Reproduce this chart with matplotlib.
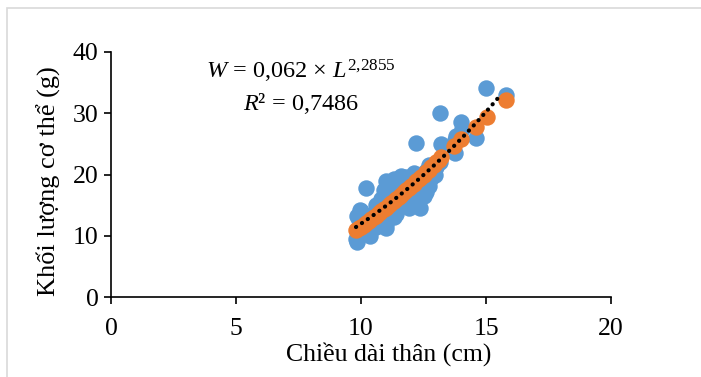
import matplotlib

matplotlib.use("Agg")
import matplotlib.pyplot as plt
import numpy as np
from matplotlib.patches import Rectangle

# observed length (cm) / weight (g)
obs_len = [15.0, 15.8, 13.15, 14.0, 14.05, 13.8, 13.75, 14.6, 12.2, 13.2,
           13.75, 13.15, 13.0, 12.95, 12.7, 12.6, 12.7, 12.35, 10.2, 9.85,
           10.35, 10.35, 9.85, 10.0, 9.9, 10.1, 9.8, 9.95,
           10.5, 10.6, 10.7, 10.8, 10.9, 11.0, 11.0, 11.0, 11.0, 11.1,
           11.2, 11.2, 11.3, 11.3, 11.4, 11.4, 11.5, 11.5, 11.6, 11.6,
           11.7, 11.7, 11.8, 11.8, 11.9, 12.0, 12.0, 12.1, 12.2, 12.3,
           12.4, 12.5, 12.5, 10.4, 10.6, 10.8, 10.2, 11.3, 11.9, 12.6,
           11.0, 10.5, 12.8, 12.1]
obs_wt = [34.2, 33.0, 30.0, 28.5, 27.4, 26.3, 25.6, 26.0, 25.1, 25.0,
          23.5, 22.0, 21.3, 20.0, 21.5, 17.1, 18.2, 14.6, 17.8, 9.0,
          10.0, 10.7, 13.3, 14.0, 12.5, 12.0, 9.4, 14.2,
          13.5, 15.0, 14.2, 16.0, 17.5, 19.0, 18.0, 12.0, 12.8, 13.8,
          15.0, 18.8, 19.2, 16.5, 14.0, 13.5, 19.5, 17.0, 19.8, 14.8,
          18.5, 16.0, 19.6, 15.2, 17.8, 19.0, 16.2, 15.5, 18.0, 20.0,
          17.5, 19.2, 16.5, 12.0, 11.5, 13.0, 11.0, 13.0, 14.5, 20.5,
          11.3, 11.8, 19.5, 20.3]

# predicted weight (orange)
pred_len = [9.8, 9.9, 10.0, 10.1, 10.2, 10.3, 10.4, 10.5, 10.6, 10.7,
            10.8, 10.9, 11.0, 11.1, 11.2, 11.3, 11.4, 11.5, 11.6, 11.7,
            11.8, 11.9, 12.0, 12.1, 12.2, 12.3, 12.4, 12.5, 12.6, 12.7,
            12.8, 12.9, 13.0, 13.1, 13.2, 13.7, 14.0, 14.6, 15.05, 15.8]
pred_wt = [10.9, 11.2, 11.5, 11.8, 12.1, 12.4, 12.7, 13.0, 13.3, 13.7,
           14.0, 14.3, 14.6, 15.0, 15.3, 15.7, 16.0, 16.4, 16.7, 17.1,
           17.4, 17.8, 18.1, 18.5, 18.9, 19.2, 19.6, 20.0, 20.4, 20.8,
           21.2, 21.6, 22.0, 22.4, 22.8, 24.7, 25.8, 27.8, 29.4, 32.1]

# power trendline W = a * L^b
trend_a = 0.062
trend_b = 2.2855
trend_range = [9.8, 15.55]

x_ticks = [0, 5, 10, 15, 20]
y_ticks = [0, 10, 20, 30, 40]

plt.rcParams["font.family"] = ["Liberation Serif", "DejaVu Serif"]
plt.rcParams["mathtext.fontset"] = "custom"
plt.rcParams["mathtext.rm"] = "Liberation Serif"
plt.rcParams["mathtext.it"] = "Liberation Serif:italic"

FS = 18.5

fig = plt.figure(figsize=(7.01, 3.77), dpi=100)
ax = fig.add_axes([111 / 701, 80 / 377, 500 / 701, 245 / 377])

# chart area border (only top/left visible in crop)
fig.patches.append(Rectangle((6.5 / 701, -0.1), 1.5, 1.1 - 8.5 / 377,
                             transform=fig.transFigure, fill=False,
                             edgecolor="#d9d9d9", linewidth=1.2))

ax.scatter(obs_len, obs_wt, s=140, color="#5b9bd5", linewidths=0, zorder=2)
ax.scatter(pred_len, pred_wt, s=140, color="#ed7d31", linewidths=0, zorder=3)

tx = np.linspace(trend_range[0], trend_range[1], 200)
ax.plot(tx, trend_a * tx ** trend_b, color="black", linewidth=3.0,
        linestyle=(0, (0.05, 1.65)), dash_capstyle="round", zorder=4)

ax.text(7.6, 36.8, r"$W$ = 0,062 × $L^{\mathrm{2{,}2855}}$", fontsize=17.5,
        ha="center", va="center")
ax.text(7.6, 31.6, r"$R$² = 0,7486", fontsize=17.5, ha="center", va="center")

ax.set_xlim(0, 20)
ax.set_ylim(0, 40)
ax.set_xticks(x_ticks)
ax.set_yticks(y_ticks)
for s in ["top", "right"]:
    ax.spines[s].set_visible(False)
for s in ["left", "bottom"]:
    ax.spines[s].set_linewidth(1.2)
ax.tick_params(axis="both", direction="out", length=5, width=1.2,
               labelsize=FS)
ax.tick_params(axis="x", pad=10)
ax.tick_params(axis="y", pad=4)

ax.set_xlabel("Chiều dài thân (cm)", fontsize=FS)
ax.set_ylabel("Khối lượng cơ thể (g)", fontsize=19)
ax.xaxis.set_label_coords(0.556, -0.185)
ax.yaxis.set_label_coords(-0.1, 0.471)

fig.savefig("out.png", dpi=100)
